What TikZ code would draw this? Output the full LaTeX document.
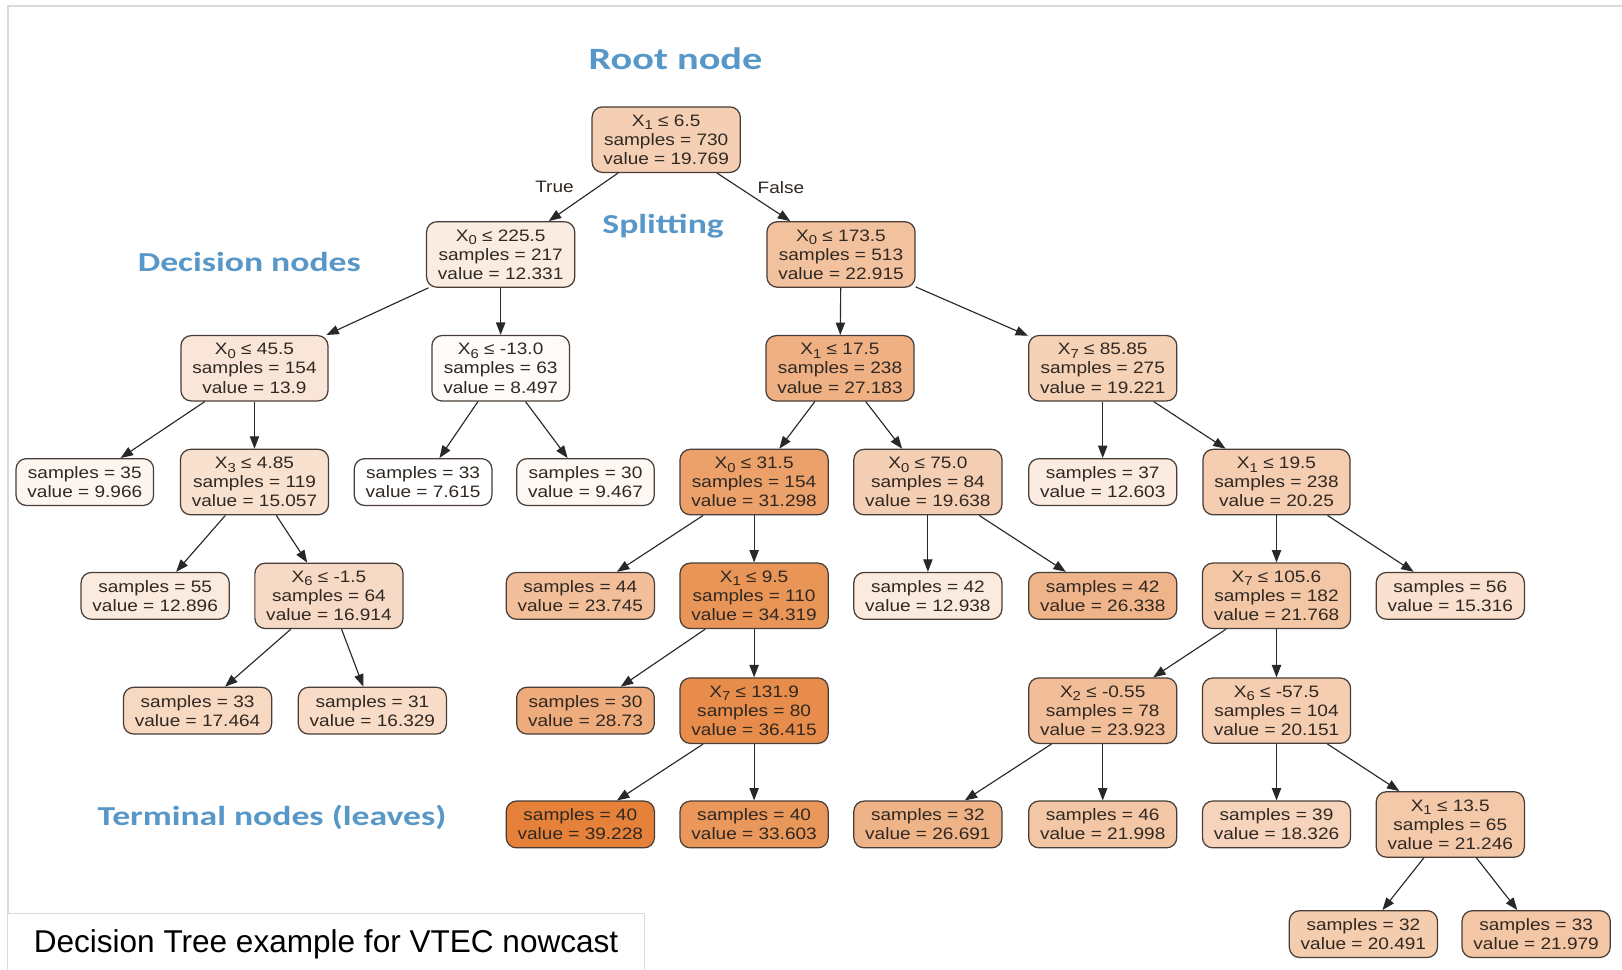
\documentclass[tikz,border=0pt]{standalone}
\usepackage{fontspec}
\setmainfont{Liberation Sans}
\newfontfamily\nodefont[FakeStretch=1.15]{Liberation Sans}
\newfontfamily\tagfont[FakeStretch=1.3]{Carlito}
\usetikzlibrary{arrows.meta}

\definecolor{leaforange}{RGB}{229,129,57}
\definecolor{tagblue}{RGB}{88,152,200}
\definecolor{edgegray}{RGB}{40,40,40}
\definecolor{boxline}{RGB}{72,62,55}
\definecolor{inkgray}{RGB}{48,40,34}
\definecolor{framegray}{RGB}{218,218,218}

% feature name with a lowered index, e.g. X_1
\newcommand{\Xsub}[1]{X\raisebox{-0.4ex}{\fontsize{12.5}{12.5}\selectfont #1}}

\tikzset{
  tnode/.style={draw=boxline, line width=1.2pt, rounded corners=10pt, align=center,
    inner xsep=11pt, inner ysep=7.5pt, text=inkgray,
    font=\nodefont\fontsize{16}{18.5}\selectfont},
  val/.style={tnode, fill=leaforange!#1!white},
  edge/.style={draw=edgegray, line width=1.1pt, -{Triangle[length=12pt,width=9pt]}},
  branch/.style={text=inkgray, font=\nodefont\fontsize{16}{18}\selectfont},
  tag/.style={text=tagblue, font=\tagfont\bfseries\fontsize{#1}{#1}\selectfont},
  capbox/.style={draw=framegray, line width=1pt, fill=white, minimum width=615pt,
    minimum height=60pt, inner sep=0pt, font=\fontsize{30.5}{36}\selectfont}
}

\begin{document}
\begin{tikzpicture}[x=1pt, y=-1pt]
\fill[white] (0,0) rectangle (1568,937);
\useasboundingbox (0,0) rectangle (1568,937);

% page frame
\draw[framegray, line width=1.2pt] (7.7,883) -- (7.7,5.8) -- (1568,5.8);

% level 0
\node[val=38.4] (root) at (644,135) {\Xsub{1} ≤ 6.5\\samples = 730\\value = 19.769};
% level 1
\node[val=14.9] (a) at (484,246) {\Xsub{0} ≤ 225.5\\samples = 217\\value = 12.331};
\node[val=48.4] (b) at (813,246) {\Xsub{0} ≤ 173.5\\samples = 513\\value = 22.915};
% level 2
\node[val=19.9] (aa) at (246,356) {\Xsub{0} ≤ 45.5\\samples = 154\\value = 13.9};
\node[val=2.8]  (ab) at (484,356) {\Xsub{6} ≤ -13.0\\samples = 63\\value = 8.497};
\node[val=61.9] (ba) at (812,356) {\Xsub{1} ≤ 17.5\\samples = 238\\value = 27.183};
\node[val=36.7] (bb) at (1066,356) {\Xsub{7} ≤ 85.85\\samples = 275\\value = 19.221};
% level 3
\node[val=7.4]  (aaa) at (82,466) {samples = 35\\value = 9.966};
\node[val=23.5] (aab) at (246,466) {\Xsub{3} ≤ 4.85\\samples = 119\\value = 15.057};
\node[val=0]    (aba) at (409,466) {samples = 33\\value = 7.615};
\node[val=5.9]  (abb) at (566,466) {samples = 30\\value = 9.467};
\node[val=74.9] (baa) at (729,466) {\Xsub{0} ≤ 31.5\\samples = 154\\value = 31.298};
\node[val=38.0] (bab) at (897,466) {\Xsub{0} ≤ 75.0\\samples = 84\\value = 19.638};
\node[val=15.8] (bba) at (1066,466) {samples = 37\\value = 12.603};
\node[val=40.0] (bbb) at (1234,466) {\Xsub{1} ≤ 19.5\\samples = 238\\value = 20.25};
% level 4
\node[val=16.7] (aaba) at (150,576) {samples = 55\\value = 12.896};
\node[val=29.4] (aabb) at (318,576) {\Xsub{6} ≤ -1.5\\samples = 64\\value = 16.914};
\node[val=51.0] (baaa) at (561,576) {samples = 44\\value = 23.745};
\node[val=84.5] (baab) at (729,576) {\Xsub{1} ≤ 9.5\\samples = 110\\value = 34.319};
\node[val=16.8] (baba) at (897,576) {samples = 42\\value = 12.938};
\node[val=59.2] (babb) at (1066,576) {samples = 42\\value = 26.338};
\node[val=44.8] (bbba) at (1234,576) {\Xsub{7} ≤ 105.6\\samples = 182\\value = 21.768};
\node[val=24.4] (bbbb) at (1402,576) {samples = 56\\value = 15.316};
% level 5
\node[val=31.2] (aabba) at (191,687) {samples = 33\\value = 17.464};
\node[val=27.6] (aabbb) at (360,687) {samples = 31\\value = 16.329};
\node[val=66.8] (baaba) at (566,687) {samples = 30\\value = 28.73};
\node[val=91.1] (baabb) at (729,687) {\Xsub{7} ≤ 131.9\\samples = 80\\value = 36.415};
\node[val=51.6] (bbbaa) at (1066,687) {\Xsub{2} ≤ -0.55\\samples = 78\\value = 23.923};
\node[val=39.7] (bbbab) at (1234,687) {\Xsub{6} ≤ -57.5\\samples = 104\\value = 20.151};
% level 6
\node[val=100]  (baabba) at (561,797) {samples = 40\\value = 39.228};
\node[val=82.2] (baabbb) at (729,797) {samples = 40\\value = 33.603};
\node[val=60.3] (bbbaaa) at (897,797) {samples = 32\\value = 26.691};
\node[val=45.5] (bbbaab) at (1066,797) {samples = 46\\value = 21.998};
\node[val=33.9] (bbbaba) at (1234,797) {samples = 39\\value = 18.326};
\node[val=43.1] (bbbabb) at (1402,797) {\Xsub{1} ≤ 13.5\\samples = 65\\value = 21.246};
% level 7
\node[val=40.7] (bbbabba) at (1318,903) {samples = 32\\value = 20.491};
\node[val=45.4] (bbbabbb) at (1485,903) {samples = 33\\value = 21.979};

% branches
\foreach \p/\c in {root/a, root/b, a/aa, a/ab, b/ba, b/bb,
  aa/aaa, aa/aab, ab/aba, ab/abb, ba/baa, ba/bab, bb/bba, bb/bbb,
  aab/aaba, aab/aabb, baa/baaa, baa/baab, bab/baba, bab/babb, bbb/bbba, bbb/bbbb,
  aabb/aabba, aabb/aabbb, baab/baaba, baab/baabb, bbba/bbbaa, bbba/bbbab,
  baabb/baabba, baabb/baabbb, bbbaa/bbbaaa, bbbaa/bbbaab, bbbab/bbbaba, bbbab/bbbabb,
  bbbabb/bbbabba, bbbabb/bbbabbb}
  \draw[edge] (\p) -- (\c);

\node[branch] (trueLbl) at (536,181) {True};
\node[branch] (falseLbl) at (755,181) {False};

% annotations
\node[tag=30]   (rootTag) at (653,57) {Root node};
\node[tag=26.5] (splitTag) at (641,219) {Splitting};
\node[tag=26.5] (decTag) at (241,253) {Decision nodes};
\node[tag=26.5] (leafTag) at (263,790) {Terminal nodes (leaves)};

% caption
\node[capbox] (caption) at (315.2,913) {Decision Tree example for VTEC nowcast};
\end{tikzpicture}
\end{document}
